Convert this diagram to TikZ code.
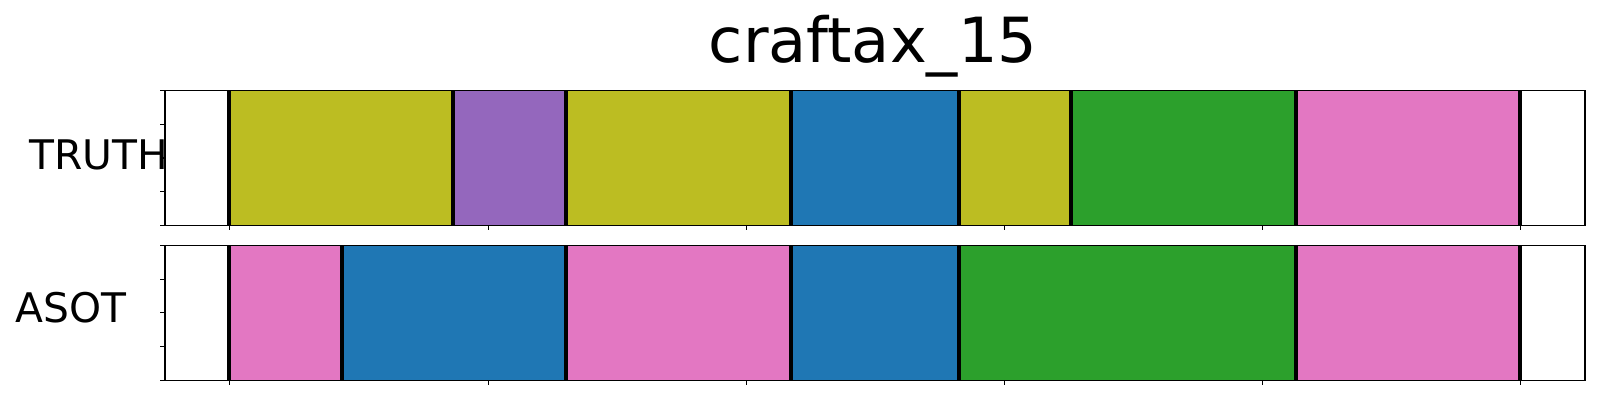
\documentclass[tikz,border=0pt]{standalone}
\usepackage{fontspec}
\setmainfont{DejaVu Sans}
\usetikzlibrary{positioning}
\definecolor{tabolive}{HTML}{BCBD22}
\definecolor{tabpurple}{HTML}{9467BD}
\definecolor{tabblue}{HTML}{1F77B4}
\definecolor{tabgreen}{HTML}{2CA02C}
\definecolor{tabpink}{HTML}{E377C2}

\begin{document}
\begin{tikzpicture}[x=0.01cm, y=-0.01cm,
    frame/.style={line width=0.4pt},
    bound/.style={line width=1.15pt},
    tick/.style={line width=0.3pt},
    rowlabel/.style={anchor=base west, inner sep=0pt, font=\fontsize{11.6pt}{14pt}\selectfont}]

    \useasboundingbox (0,0) rectangle (1600,400);

    \node[anchor=base, inner sep=0pt, font=\fontsize{17.7pt}{21pt}\selectfont] (title) at (873,62.7) {craftax\_15};

    % TRUTH row
    \foreach \a/\b/\c in {229.3/453.3/tabolive, 453.3/565.7/tabpurple, 565.7/790.7/tabolive,
        790.7/958.7/tabblue, 958.7/1070.7/tabolive, 1070.7/1295.9/tabgreen, 1295.9/1520/tabpink}
        \fill[\c] (\a,90.7) rectangle (\b,225.3);
    \foreach \x in {229.3,453.3,565.7,790.7,958.7,1070.7,1295.9,1520}
        \draw[bound] (\x,90.7) -- (\x,225.3);
    \draw[frame] (165,90.7) coordinate (T0) rectangle (1585,225.3) coordinate (T1);
    \node[rowlabel] (truth) at (29,169) {TRUTH};

    % ASOT row
    \foreach \a/\b/\c in {229.3/341.7/tabpink, 341.7/565.7/tabblue, 565.7/790.7/tabpink,
        790.7/958.7/tabblue, 958.7/1295.9/tabgreen, 1295.9/1520/tabpink}
        \fill[\c] (\a,245.3) rectangle (\b,380.3);
    \foreach \x in {229.3,341.7,565.7,790.7,958.7,1295.9,1520}
        \draw[bound] (\x,245.3) -- (\x,380.3);
    \draw[frame] (165,245.3) coordinate (A0) rectangle (1585,380.3) coordinate (A1);
    \node[rowlabel] (asot) at (15,322.7) {ASOT};

    % ticks
    \foreach \k in {0,...,4} {
        \draw[tick] (165,90.7+\k*33.65) -- ++(-4.7,0);
        \draw[tick] (165,245.3+\k*33.75) -- ++(-4.7,0);
    }
    \foreach \x in {229.3,488.7,746.3,1004.3,1262.3,1520.5} {
        \draw[tick] (\x,225.3) -- ++(0,4.7);
        \draw[tick] (\x,380.3) -- ++(0,4.7);
    }

\end{tikzpicture}
\end{document}
